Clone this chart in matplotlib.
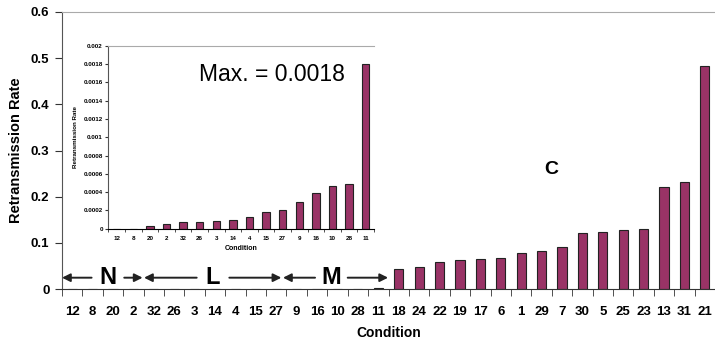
import numpy as np
import matplotlib.pyplot as plt

plt.rcParams["font.family"] = ["Liberation Sans", "DejaVu Sans"]

# main chart data
conditions = ["12", "8", "20", "2", "32", "26", "3", "14", "4", "15", "27", "9", "16", "10", "28", "11",
              "18", "24", "22", "19", "17", "6", "1", "29", "7", "30", "5", "25", "23", "13", "31", "21"]
rates = [0.0, 0.0, 0.0000255, 0.000047, 0.000069, 0.000076, 0.000087, 0.000098, 0.000124, 0.000186,
         0.000204, 0.000295, 0.000386, 0.00047, 0.000485, 0.0018,
         0.043, 0.048, 0.058, 0.062, 0.066, 0.068, 0.079, 0.083, 0.092, 0.122, 0.124, 0.127, 0.129,
         0.222, 0.232, 0.483]

# inset: first 16 conditions
inset_conditions = conditions[:16]
inset_rates = rates[:16]

bar_color = "#993366"

fig = plt.figure(figsize=(7.15, 3.44), dpi=100)
ax = fig.add_axes([62 / 715, 55 / 344, 653 / 715, 277 / 344])

x = np.arange(len(conditions))
ax.bar(x, rates, width=0.45, color=bar_color, edgecolor="#222222", linewidth=0.8)
ax.set_xlim(-0.5, len(conditions) - 0.5)
ax.set_ylim(0, 0.6)
ax.set_yticks([0, 0.1, 0.2, 0.3, 0.4, 0.5, 0.6])
ax.set_yticklabels(["0", "0.1", "0.2", "0.3", "0.4", "0.5", "0.6"], fontsize=9.5, fontweight="bold")
ax.set_xticks(x)
ax.set_xticklabels(conditions, fontsize=9.5, fontweight="bold")
ax.set_xticks(np.arange(len(conditions) + 1) - 0.5, minor=True)
ax.tick_params(axis="x", which="major", length=0, pad=12)
ax.tick_params(axis="x", which="minor", length=5, color="#333333", direction="out")
ax.tick_params(axis="y", length=5, color="#333333", direction="out", pad=4)
ax.spines["right"].set_visible(False)
ax.spines["top"].set_color("#aaaaaa")
ax.spines["left"].set_color("#555555")
ax.spines["bottom"].set_color("#333333")
ax.set_ylabel("Retransmission Rate", fontsize=10.5, fontweight="bold")
ax.yaxis.set_label_coords(-0.06, 0.5)
ax.set_xlabel("Condition", fontsize=10, fontweight="bold", labelpad=6)

# group arrows
arrow_y = 0.0245
arr = dict(arrowstyle="-|>", color="#222222", lw=1.4, mutation_scale=12, shrinkA=0, shrinkB=0)
groups = [("N", -0.5, 3.45, 1.75), ("L", 3.52, 10.25, 6.9), ("M", 10.33, 15.48, 12.7)]
for name, x0, x1, xt in groups:
    ax.annotate("", xy=(x0, arrow_y), xytext=(xt - 0.8, arrow_y), arrowprops=arr)
    ax.annotate("", xy=(x1, arrow_y), xytext=(xt + 0.8, arrow_y), arrowprops=arr)
    ax.text(xt, arrow_y, name, fontsize=17, fontweight="bold", ha="center", va="center")
ax.text(23.47, 0.258, "C", fontsize=14, fontweight="bold", ha="center", va="center")

# inset
ins = fig.add_axes([108.4 / 715, 115.3 / 344, 265.6 / 715, 183 / 344])
xi = np.arange(len(inset_conditions))
ins.bar(xi, inset_rates, width=0.45, color=bar_color, edgecolor="#222222", linewidth=0.8)
ins.set_xlim(-0.5, len(inset_conditions) - 0.5)
ins.set_ylim(0, 0.002)
ins.set_yticks(np.arange(0, 0.0021, 0.0002))
ins.set_yticklabels(["0", "0.0002", "0.0004", "0.0006", "0.0008", "0.001", "0.0012",
                     "0.0014", "0.0016", "0.0018", "0.002"], fontsize=4.5, fontweight="bold")
ins.set_xticks(xi)
ins.set_xticklabels(inset_conditions, fontsize=4.5, fontweight="bold")
ins.set_xticks(np.arange(len(inset_conditions) + 1) - 0.5, minor=True)
ins.tick_params(axis="x", which="major", length=0, pad=5)
ins.tick_params(axis="x", which="minor", length=2, color="#333333")
ins.tick_params(axis="y", length=2, color="#333333", pad=2)
ins.spines["right"].set_visible(False)
ins.spines["top"].set_color("#aaaaaa")
ins.spines["left"].set_color("#555555")
ins.set_ylabel("Retransmission Rate", fontsize=4.5, fontweight="bold", labelpad=4)
ins.set_xlabel("Condition", fontsize=5, fontweight="bold", labelpad=3)
ins.text(9.36, 0.00169, "Max. = 0.0018", fontsize=16.5, ha="center", va="center")

fig.savefig("out.png", dpi=100)
